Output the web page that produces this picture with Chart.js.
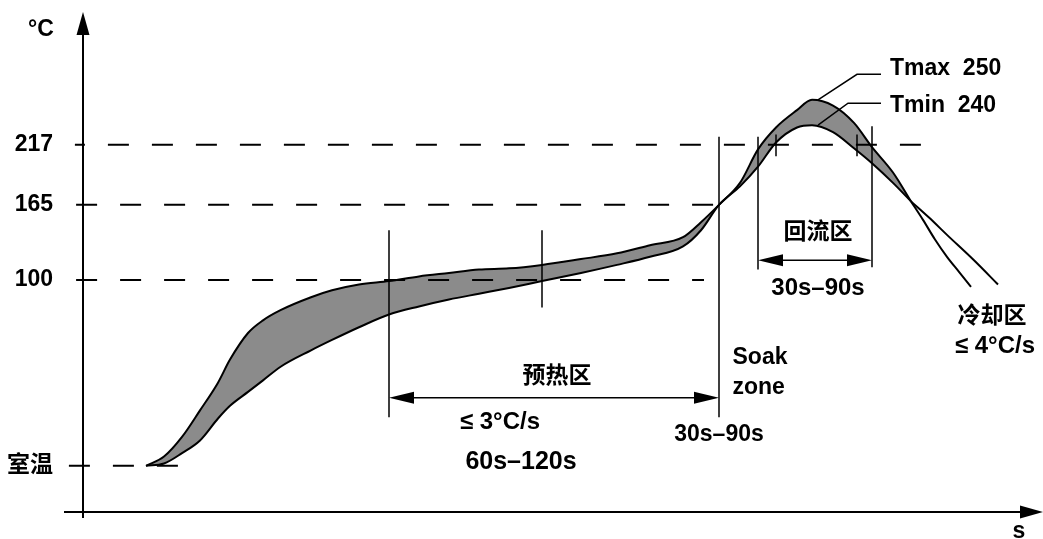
<!DOCTYPE html>
<html>
<head>
<meta charset="utf-8">
<script src="https://cdn.jsdelivr.net/npm/chart.js@4.4.1/dist/chart.umd.min.js"></script>
<style>
  html, body { margin: 0; padding: 0; background: #fff; }
  canvas { display: block; }
</style>
</head>
<body>
<canvas id="chart" width="1043" height="539"></canvas>
<script>
// schematic reflow profile: the axis is not to scale below 100 °C,
// room temperature sits at a level of its own
const ROOM_T = -61;

// time (s) shared by both boundary curves
const timeS = [21, 27, 33, 39, 45, 49, 55, 60, 66, 76, 83, 92, 102, 112, 122, 132, 142, 153,
               166, 178, 189, 200, 206, 212, 219, 225, 231, 238, 243, 250, 257, 263, 270, 276];
// upper boundary (Tmax)
const tMax = [-61, -53, -36, -13, 11, 31, 54, 65, 74, 85, 91, 96, 99, 103, 106, 109, 110, 113,
              118, 123, 130, 137, 150, 165, 184, 213, 232, 247, 256, 251, 236, 215, 193, 168];
// lower boundary (Tmin)
const tMin = [-61, -59, -50, -39, -20, -9, 3, 13, 25, 39, 48, 59, 70, 77, 83, 88, 93, 99,
              106, 113, 120, 129, 143, 165, 181, 198, 219, 232, 234, 228, 214, 201, 184, 168];

// cooling tails after the curves cross
const tailMaxS = [276, 280, 284, 288, 292, 296];
const tailMaxT = [168, 152, 135, 120, 107, 94];
const tailMinS = [276, 282, 288, 297, 305];
const tailMinT = [168, 154, 139, 117, 96];

// y tick labels
const yTickValues = [ROOM_T, 100, 165, 217];
const yTickLabels = ['室温', '100', '165', '217'];

// dashed reference levels
const refLevels = [217, 165, 100, ROOM_T];
const refFrom = [-2.7, -2.3, -2.3, -4.7];
const refTo = [285, 212, 207, 32];

// vertical guide lines (time, top, bottom)
const guideS = [102, 153, 212, 225, 263, 231, 258];
const guideTop = [143, 143, 224, 224, 233, 226, 226];
const guideBottom = [-19, 76, -19, 109, 111, 207, 207];

// dimension arrows (from, to, level)
const arrowFrom = [102, 225];
const arrowTo = [212, 263];
const arrowLevel = [-2, 117];

// leader lines to the peak labels
const tmaxLeaderS = [245, 258, 266];
const tmaxLeaderT = [256, 278, 278];
const tminLeaderS = [245, 255, 266];
const tminLeaderT = [234, 253, 253];

const FONT = "'Liberation Sans', 'Noto Sans CJK SC', sans-serif";
const notes = [
  {text: '°C', x: -14, y: 317, size: 23},
  {text: '预热区', x: 158, y: 16, size: 23},
  {text: '≤ 3°C/s', x: 139, y: -23, size: 24},
  {text: '60s–120s', x: 146, y: -58, size: 25},
  {text: '30s–90s', x: 212, y: -34, size: 23},
  {text: 'Soak', x: 216.5, y: 33, size: 23, align: 'left'},
  {text: 'zone', x: 216.5, y: 7, size: 23, align: 'left'},
  {text: '回流区', x: 245, y: 141, size: 23},
  {text: '30s–90s', x: 245, y: 93, size: 24},
  {text: '冷却区', x: 303, y: 68, size: 23},
  {text: '≤ 4°C/s', x: 304, y: 42, size: 24},
  {text: 'Tmax  250', x: 269, y: 283, size: 23, align: 'left'},
  {text: 'Tmin  240', x: 269, y: 251, size: 23, align: 'left'},
  {text: 's', x: 312, y: -118, size: 23}
];

const pts = (xs, ys) => xs.map((v, i) => ({x: v, y: ys[i]}));

function curve(data, extra) {
  return Object.assign({
    data, borderColor: '#000', borderWidth: 2, pointRadius: 0,
    cubicInterpolationMode: 'monotone', fill: false, order: 2,
    borderJoinStyle: 'round'
  }, extra);
}

const datasets = [
  curve(pts(timeS, tMax)),
  curve(pts(timeS, tMin), {fill: '-1', backgroundColor: '#8b8b8b'}),
  curve(pts(tailMaxS, tailMaxT)),
  curve(pts(tailMinS, tailMinT))
];

refLevels.forEach((lv, i) => {
  datasets.push({
    data: [{x: refFrom[i], y: lv}, {x: refTo[i], y: lv}],
    borderColor: '#000', borderWidth: 2, borderDash: [21, 23],
    borderDashOffset: i === 0 ? 11 : 0,
    pointRadius: 0, fill: false, clip: false, order: 1
  });
});

guideS.forEach((s, i) => {
  datasets.push({
    data: [{x: s, y: guideTop[i]}, {x: s, y: guideBottom[i]}],
    borderColor: '#000', borderWidth: 1.5, pointRadius: 0,
    fill: false, clip: false, order: 1
  });
});

datasets.push({
  data: pts(tmaxLeaderS, tmaxLeaderT),
  borderColor: '#000', borderWidth: 1.5, pointRadius: 0, fill: false, clip: false, order: 1
});
datasets.push({
  data: pts(tminLeaderS, tminLeaderT),
  borderColor: '#000', borderWidth: 1.5, pointRadius: 0, fill: false, clip: false, order: 1
});

function head(ctx, tx, ty, dx, dy, len, half) {
  // triangle with its tip at (tx, ty) pointing along (dx, dy)
  const bx = tx - dx * len, by = ty - dy * len;
  ctx.beginPath();
  ctx.moveTo(tx, ty);
  ctx.lineTo(bx - dy * half, by + dx * half);
  ctx.lineTo(bx + dy * half, by - dx * half);
  ctx.closePath();
  ctx.fill();
}

const sketch = {
  id: 'sketch',
  afterDatasetsDraw(chart) {
    const {ctx, chartArea: a, scales: {x, y}} = chart;
    ctx.save();
    ctx.strokeStyle = '#000';
    ctx.fillStyle = '#000';

    // axes with arrows
    ctx.lineWidth = 2;
    ctx.beginPath();
    ctx.moveTo(a.left, a.bottom + 6);
    ctx.lineTo(a.left, a.top + 20);
    ctx.moveTo(a.left - 19, a.bottom);
    ctx.lineTo(a.right - 18, a.bottom);
    ctx.stroke();
    head(ctx, a.left, a.top, 0, -1, 23, 6.5);
    head(ctx, a.right + 3, a.bottom, 1, 0, 23, 6.5);

    // dimension arrows
    ctx.lineWidth = 1.5;
    arrowFrom.forEach((s, i) => {
      const x1 = x.getPixelForValue(s), x2 = x.getPixelForValue(arrowTo[i]);
      const yy = y.getPixelForValue(arrowLevel[i]);
      ctx.beginPath();
      ctx.moveTo(x1 + 10, yy);
      ctx.lineTo(x2 - 10, yy);
      ctx.stroke();
      head(ctx, x1, yy, -1, 0, 25, 6);
      head(ctx, x2, yy, 1, 0, 25, 6);
    });

    // labels
    ctx.textBaseline = 'middle';
    notes.forEach(n => {
      ctx.font = 'bold ' + n.size + 'px ' + FONT;
      ctx.textAlign = n.align || 'center';
      ctx.fillText(n.text, x.getPixelForValue(n.x), y.getPixelForValue(n.y));
    });
    ctx.restore();
  }
};

new Chart(document.getElementById('chart'), {
  type: 'line',
  data: {datasets},
  options: {
    responsive: false,
    animation: false,
    events: [],
    layout: {padding: {left: 0, top: 12, right: 3, bottom: 27}},
    plugins: {legend: {display: false}, tooltip: {enabled: false}},
    elements: {line: {borderCapStyle: 'butt'}},
    scales: {
      x: {type: 'linear', min: 0, max: 319, display: false},
      y: {
        type: 'linear', min: -101, max: 332,
        grid: {display: false, drawTicks: false},
        border: {display: false},
        ticks: {
          autoSkip: false,
          padding: 30,
          color: '#000',
          font: {family: FONT, size: 23, weight: 'bold', lineHeight: 1},
          callback: (v, i) => yTickLabels[i]
        },
        afterBuildTicks: scale => {
          scale.ticks = yTickValues.map(v => ({value: v}));
        },
        afterFit: scale => {
          scale.width = 83;
          scale.paddingTop = 0;
          scale.paddingBottom = 0;
        }
      }
    }
  },
  plugins: [sketch]
});
</script>
</body>
</html>
